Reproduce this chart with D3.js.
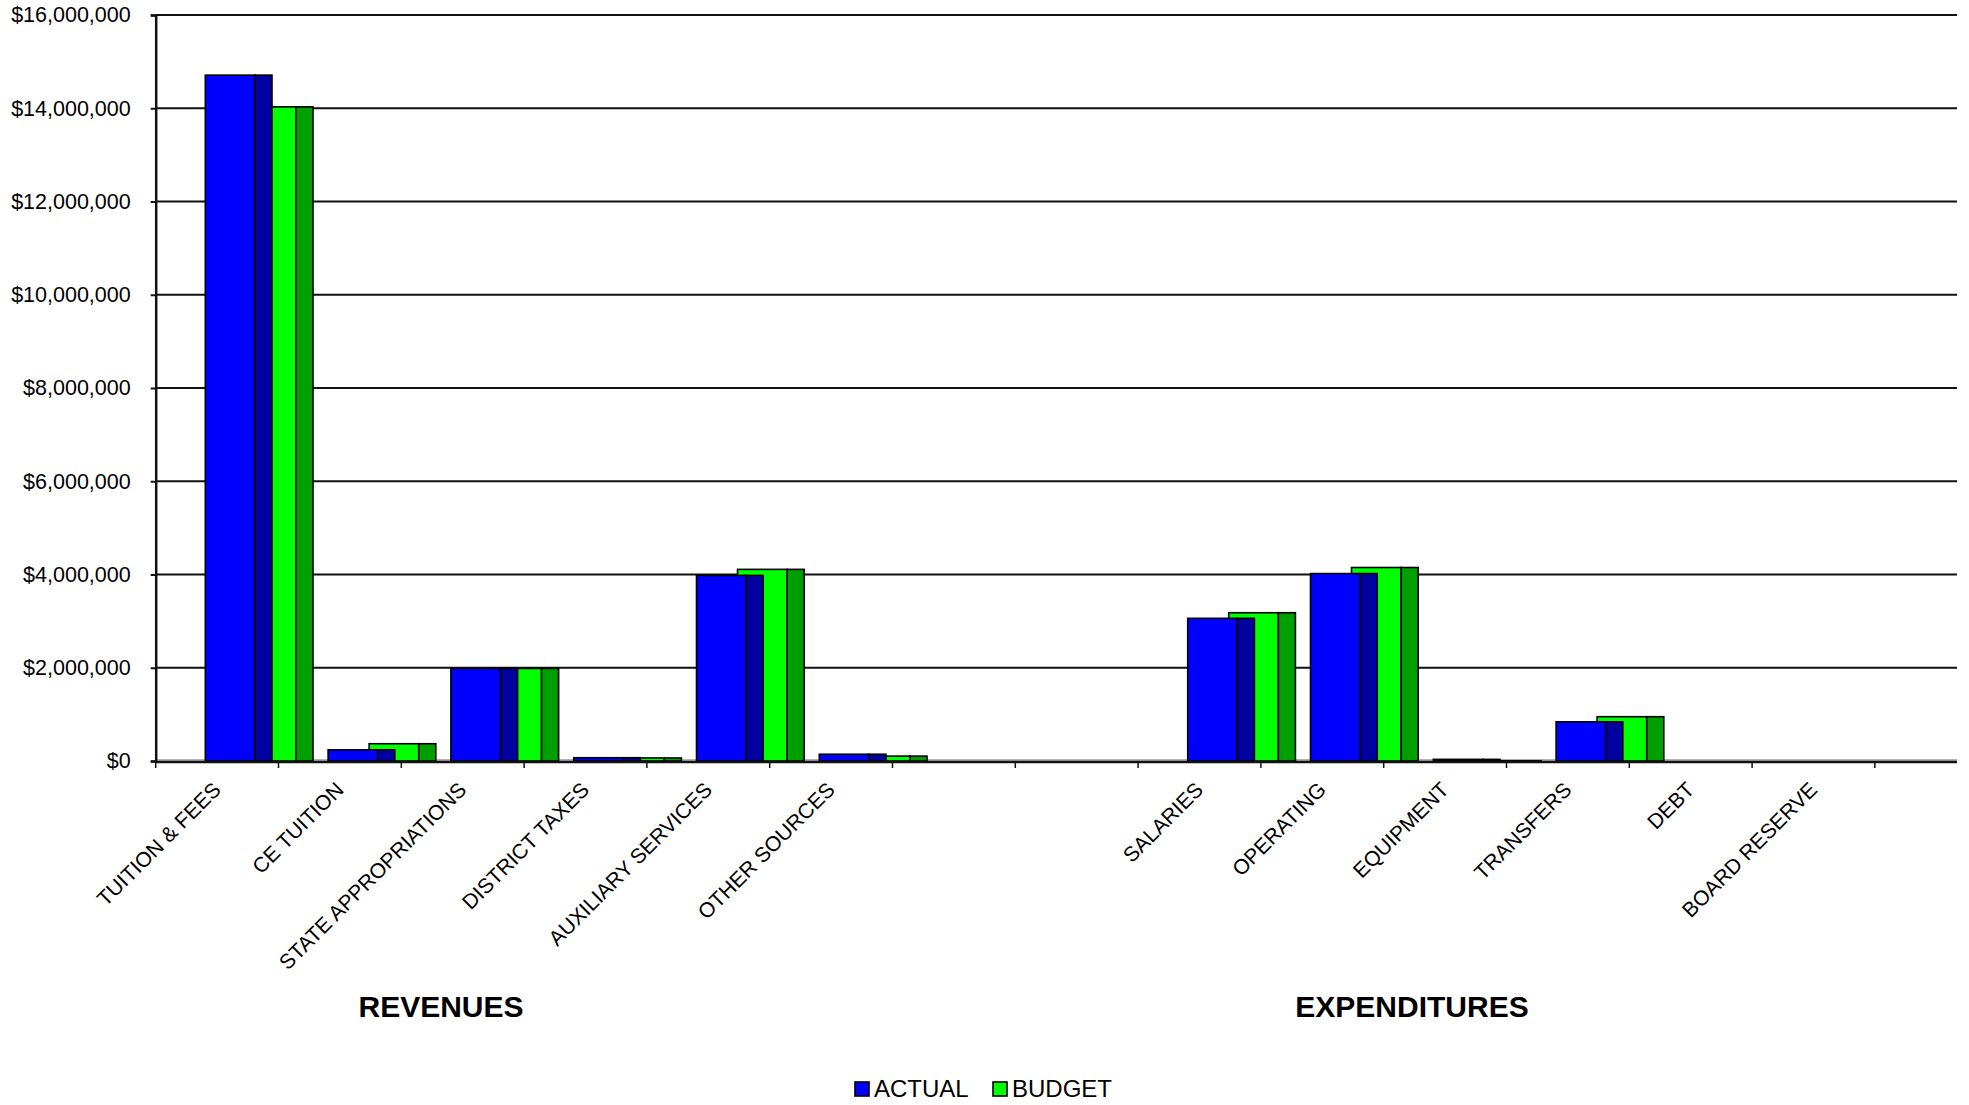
<!DOCTYPE html>
<html>
<head>
<meta charset="utf-8">
<script src="https://cdn.jsdelivr.net/npm/d3@7"></script>
<style>
  html, body { margin: 0; padding: 0; background: #fff; }
  svg { display: block; font-family: "Liberation Sans", Arial, sans-serif; }
</style>
</head>
<body>
<svg id="chart" width="1969" height="1105"></svg>
<script>
// Category slots: six revenue lines, two empty spacer slots, six expenditure lines
const categories = [
  "TUITION & FEES", "CE TUITION", "STATE APPROPRIATIONS", "DISTRICT TAXES",
  "AUXILIARY SERVICES", "OTHER SOURCES", "", "",
  "SALARIES", "OPERATING", "EQUIPMENT", "TRANSFERS", "DEBT", "BOARD RESERVE"
];
const actual = [14710000, 240000, 1985000, 70000, 3980000, 145000, 0, 0,
                3060000, 4020000, 35000, 840000, 0, 0];
const budget = [14030000, 370000, 1985000, 65000, 4110000, 105000, 0, 0,
                3180000, 4150000, 5000, 950000, 0, 0];
const yTicks = [0, 2000000, 4000000, 6000000, 8000000, 10000000, 12000000, 14000000, 16000000];
const seriesNames = ["ACTUAL", "BUDGET"];
const groupTitles = ["REVENUES", "EXPENDITURES"];

const svg = d3.select("#chart");

const plotLeft = 155.7, plotRight = 1957, plotTop = 15, plotBottom = 761;
const slot = 122.8;

const x = d3.scaleBand()
  .domain(d3.range(categories.length))
  .range([plotLeft, plotLeft + slot * categories.length])
  .padding(0);
const y = d3.scaleLinear().domain([0, 16000000]).range([plotBottom, plotTop]);

const bw = x.bandwidth();
const colors = {
  ACTUAL: { front: "#0000ff", side: "#0000a0" },
  BUDGET: { front: "#00ff00", side: "#009f00" }
};

// Horizontal gridlines on the back wall
svg.append("g")
  .selectAll("line")
  .data(yTicks.filter(d => d > 0))
  .join("line")
  .attr("x1", plotLeft).attr("x2", plotRight)
  .attr("y1", d => y(d)).attr("y2", d => y(d))
  .attr("stroke", "#111").attr("stroke-width", 2);

// Thin grey floor strip
svg.append("rect")
  .attr("x", plotLeft).attr("y", y(0) - 2)
  .attr("width", plotRight - plotLeft).attr("height", 3)
  .attr("fill", "#b4b4b4");

// Vertical value axis
const yAxis = d3.axisLeft(y)
  .tickValues(yTicks)
  .tickSize(5)
  .tickPadding(20)
  .tickFormat(d => "$" + d3.format(",")(d));

const gy = svg.append("g")
  .attr("transform", `translate(${plotLeft},0)`)
  .call(yAxis);
gy.select(".domain").attr("stroke", "#111").attr("stroke-width", 2.5);
gy.selectAll(".tick line").attr("stroke", "#111").attr("stroke-width", 2);
gy.selectAll(".tick text")
  .attr("font-size", 21.5)
  .attr("font-family", "'Liberation Sans', Arial, sans-serif")
  .attr("fill", "#000");

// Column with a lit front face and a darker right side face
function drawSeries(values, name, offset) {
  const c = colors[name];
  const g = svg.append("g").attr("class", "series-" + name);
  const data = values.map((v, i) => ({ v, i })).filter(d => d.v > 0);
  const frontW = bw * 0.404, sideW = bw * 0.139;
  g.selectAll("rect.front")
    .data(data).join("rect").attr("class", "front")
    .attr("x", d => x(d.i) + offset)
    .attr("y", d => y(d.v))
    .attr("width", frontW)
    .attr("height", d => y(0) - y(d.v))
    .attr("fill", c.front).attr("stroke", "#000").attr("stroke-width", 1.6);
  g.selectAll("rect.side")
    .data(data).join("rect").attr("class", "side")
    .attr("x", d => x(d.i) + offset + frontW)
    .attr("y", d => y(d.v))
    .attr("width", sideW)
    .attr("height", d => y(0) - y(d.v))
    .attr("fill", c.side).attr("stroke", "#000").attr("stroke-width", 1.6);
}

// Budget sits behind actual, shifted to the right
drawSeries(budget, "BUDGET", bw * 0.738);
drawSeries(actual, "ACTUAL", bw * 0.404);

// Category axis line and boundary ticks
svg.append("line")
  .attr("x1", plotLeft).attr("x2", plotRight)
  .attr("y1", y(0) + 1).attr("y2", y(0) + 1)
  .attr("stroke", "#111").attr("stroke-width", 2.5);

svg.append("g")
  .selectAll("line")
  .data(d3.range(categories.length + 1))
  .join("line")
  .attr("x1", i => i < categories.length ? x(i) : x(i - 1) + bw)
  .attr("x2", i => i < categories.length ? x(i) : x(i - 1) + bw)
  .attr("y1", y(0) + 1).attr("y2", y(0) + 7)
  .attr("stroke", "#111").attr("stroke-width", 1.5);

// Rotated category labels
svg.append("g")
  .selectAll("text")
  .data(categories.map((c, i) => ({ c, i })).filter(d => d.c))
  .join("text")
  .attr("transform", d => `translate(${x(d.i) + bw / 2 + 5},${y(0) + 30}) rotate(-45)`)
  .attr("text-anchor", "end")
  .attr("font-size", 21)
  .attr("fill", "#000")
  .text(d => d.c);

// Section titles under the two category groups
const titleX = [441, 1412];
svg.append("g")
  .selectAll("text")
  .data(groupTitles)
  .join("text")
  .attr("x", (d, i) => titleX[i])
  .attr("y", 1017)
  .attr("text-anchor", "middle")
  .attr("font-size", 30)
  .attr("font-weight", "bold")
  .attr("fill", "#000")
  .text(d => d);

// Legend
const legendX = [855, 993];
const lg = svg.append("g")
  .selectAll("g")
  .data(seriesNames)
  .join("g")
  .attr("transform", (d, i) => `translate(${legendX[i]},1082)`);
lg.append("rect")
  .attr("width", 14).attr("height", 14)
  .attr("fill", d => colors[d].front)
  .attr("stroke", "#000").attr("stroke-width", 1.6);
lg.append("text")
  .attr("x", 19).attr("y", 15)
  .attr("font-size", 24)
  .attr("fill", "#000")
  .text(d => d);
</script>
</body>
</html>
